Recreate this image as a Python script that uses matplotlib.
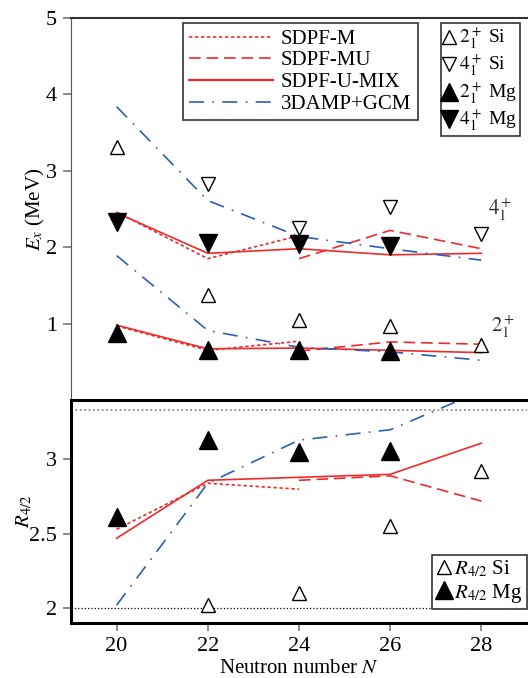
import numpy as np
import matplotlib
matplotlib.use('Agg')
import matplotlib.pyplot as plt
from matplotlib.lines import Line2D

plt.rcParams['font.family'] = ['Liberation Serif', 'DejaVu Serif']
plt.rcParams['mathtext.fontset'] = 'stix'

RED = '#ee2b2b'
BLUE = '#2d5fb4'

N = [20, 22, 24, 26, 28]

# experiment
si_2 = [3.31, 1.38, 1.05, 0.97, 0.72]
si_4_N = [22, 24, 26, 28]
si_4 = [2.83, 2.25, 2.52, 2.17]
mg_N = [20, 22, 24, 26]
mg_2 = [0.88, 0.66, 0.66, 0.64]
mg_4 = [2.33, 2.05, 2.04, 2.02]
si_r_N = [22, 24, 26, 28]
si_r = [2.02, 2.10, 2.55, 2.92]
mg_r = [2.61, 3.13, 3.05, 3.06]

# theory
sdpfm_N = [20, 22, 24]
sdpfm_2 = [0.97, 0.65, 0.77]
sdpfm_4 = [2.46, 1.85, 2.15]
sdpfm_r = [2.53, 2.84, 2.80]

sdpfmu_N = [24, 26, 28]
sdpfmu_2 = [0.64, 0.76, 0.73]
sdpfmu_4 = [1.85, 2.22, 1.98]
sdpfmu_r = [2.86, 2.89, 2.72]

mix_2 = [0.98, 0.67, 0.68, 0.65, 0.62]
mix_4 = [2.45, 1.92, 1.98, 1.90, 1.92]
mix_r = [2.47, 2.86, 2.88, 2.90, 3.11]

gcm_2 = [1.89, 0.91, 0.69, 0.63, 0.52]
gcm_4 = [3.84, 2.61, 2.14, 1.98, 1.83]
gcm_r = [2.02, 2.84, 3.13, 3.20, 3.46]

ls_m = (0, (2, 1.6))
ls_mu = (0, (7, 3.5))
ls_gcm = (0, (9, 5, 1, 5))

fig = plt.figure(figsize=(5.28, 6.78), dpi=100)
ax1 = fig.add_axes([71/528, 1-400/678, 456/528, 382/678])
ax2 = fig.add_axes([71/528, 1-623/678, 456/528, 223/678])

# ---- top panel
for yy in (sdpfm_2, sdpfm_4):
    ax1.plot(sdpfm_N, yy, color=RED, ls=ls_m, lw=1.2)
for yy in (sdpfmu_2, sdpfmu_4):
    ax1.plot(sdpfmu_N, yy, color=RED, ls=ls_mu, lw=1.2)
for yy in (mix_2, mix_4):
    ax1.plot(N, yy, color=RED, ls='-', lw=1.2)
for yy in (gcm_2, gcm_4):
    ax1.plot(N, yy, color=BLUE, ls=ls_gcm, lw=1.2)

ax1.plot(N, si_2, ls='none', marker='^', ms=10, mfc='white', mec='black', mew=1)
ax1.plot(si_4_N, si_4, ls='none', marker='v', ms=10, mfc='white', mec='black', mew=1)
ax1.plot(mg_N, mg_2, ls='none', marker='^', ms=13, color='black')
ax1.plot(mg_N, mg_4, ls='none', marker='v', ms=13, color='black')

ax1.text(28.15, 2.42, r'$4_1^+$', fontsize=15, color='#333333')
ax1.text(28.2, 0.88, r'$2_1^+$', fontsize=15, color='#333333')

ax1.set_xlim(19, 29)
ax1.set_ylim(0, 5)
ax1.set_yticks([1, 2, 3, 4, 5])
ax1.set_xticks([])
ax1.set_ylabel(r'$E_x$ (MeV)', fontsize=15, labelpad=-1)
ax1.tick_params(axis='y', direction='out', length=6, width=1.2, color='#777777',
                labelsize=16, pad=4)
ax1.spines['right'].set_visible(False)
ax1.spines['bottom'].set_visible(False)
ax1.spines['left'].set_color('#555555')
ax1.spines['top'].set_color('#333333')
ax1.spines['top'].set_linewidth(1.5)

h1 = [Line2D([], [], color=RED, ls=ls_m, lw=1.2),
      Line2D([], [], color=RED, ls=ls_mu, lw=1.2),
      Line2D([], [], color=RED, ls='-', lw=1.6),
      Line2D([], [], color=BLUE, ls=ls_gcm, lw=1.2)]
leg1 = ax1.legend(h1, ['SDPF-M', 'SDPF-MU', 'SDPF-U-MIX', '3DAMP+GCM'],
                  loc='upper left', bbox_to_anchor=(0.2456, 0.987), fontsize=15,
                  handlelength=4.0, handletextpad=0.4, labelspacing=0.1,
                  borderpad=0.3, borderaxespad=0.0, fancybox=False,
                  edgecolor='#333333', framealpha=1)
leg1.get_frame().set_linewidth(1.2)
ax1.add_artist(leg1)

h2 = [Line2D([], [], ls='none', marker='^', ms=10, mfc='white', mec='black'),
      Line2D([], [], ls='none', marker='v', ms=10, mfc='white', mec='black'),
      Line2D([], [], ls='none', marker='^', ms=13, color='black'),
      Line2D([], [], ls='none', marker='v', ms=13, color='black')]
leg2 = ax1.legend(h2, [r'$2_1^+$ Si', r'$4_1^+$ Si', r'$2_1^+$ Mg', r'$4_1^+$ Mg'],
                  loc='upper right', bbox_to_anchor=(0.9846, 0.987), fontsize=14,
                  handlelength=0.6, handletextpad=0.2, labelspacing=0.1,
                  borderpad=0.15, borderaxespad=0.0, fancybox=False,
                  edgecolor='#333333', framealpha=1)
leg2.get_frame().set_linewidth(1.2)

# ---- bottom panel
ax2.axhline(2.0, color='black', ls=':', lw=0.9)
ax2.axhline(10/3, color='#777777', ls=':', lw=1.2)
ax2.plot(sdpfm_N, sdpfm_r, color=RED, ls=ls_m, lw=1.2)
ax2.plot(sdpfmu_N, sdpfmu_r, color=RED, ls=ls_mu, lw=1.2)
ax2.plot(N, mix_r, color=RED, ls='-', lw=1.2)
ax2.plot(N, gcm_r, color=BLUE, ls=ls_gcm, lw=1.2)
ax2.plot(si_r_N, si_r, ls='none', marker='^', ms=10, mfc='white', mec='black', mew=1)
ax2.plot(mg_N, mg_r, ls='none', marker='^', ms=13, color='black')

ax2.set_xlim(19, 29)
ax2.set_ylim(1.9, 3.4)
ax2.set_xticks(N)
ax2.set_yticks([2, 2.5, 3])
ax2.set_yticklabels(['2', '2.5', '3'])
ax2.set_xlabel(r'Neutron number $N$', fontsize=15, labelpad=2)
ax2.set_ylabel(r'$R_{4/2}$', fontsize=15, labelpad=-4)
ax2.tick_params(direction='out', length=6, width=1.2, color='#777777',
                labelsize=16, pad=4)
for s in ('left', 'top', 'bottom'):
    ax2.spines[s].set_linewidth(2.2)
ax2.spines['right'].set_visible(False)

h3 = [Line2D([], [], ls='none', marker='^', ms=10, mfc='white', mec='black'),
      Line2D([], [], ls='none', marker='^', ms=13, color='black')]
leg3 = ax2.legend(h3, [r'$R_{4/2}$ Si', r'$R_{4/2}$ Mg'], loc='lower right',
                  bbox_to_anchor=(1.0, 0.063), fontsize=15, handlelength=0.8,
                  handletextpad=0.1, labelspacing=0.1, borderpad=0.2,
                  borderaxespad=0.0, fancybox=False, edgecolor='#333333',
                  framealpha=1)
leg3.get_frame().set_linewidth(1.2)

fig.savefig('out.png', dpi=100)
